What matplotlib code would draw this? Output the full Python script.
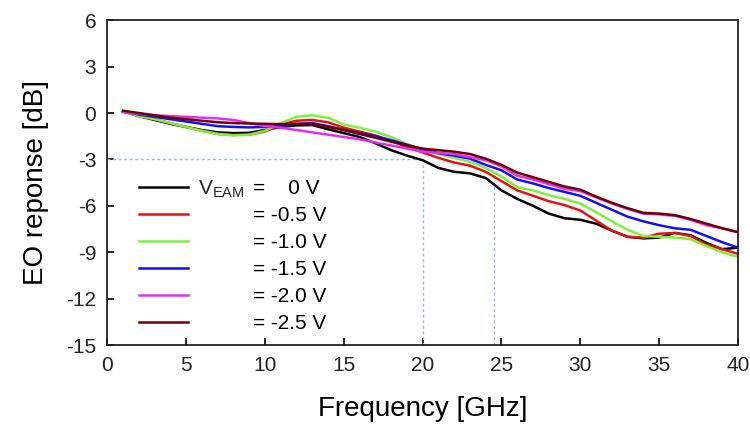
import numpy as np
import matplotlib
matplotlib.use("Agg")
import matplotlib.pyplot as plt

plt.rcParams['font.family'] = ['Liberation Sans', 'DejaVu Sans']
plt.rcParams['axes.unicode_minus'] = False

# frequency axis of the EO response sweep [GHz]
freq = np.arange(1, 41)

# EO response [dB] for each EAM bias
resp_0v0 = [0.10, -0.20, -0.45, -0.70, -0.90, -1.10, -1.25, -1.30, -1.28, -1.10,
            -0.90, -0.80, -0.78, -1.05, -1.30, -1.55, -1.95, -2.40, -2.75, -3.05,
            -3.55, -3.80, -3.90, -4.20, -5.00, -5.55, -6.00, -6.50, -6.80, -6.90,
            -7.15, -7.60, -8.00, -8.10, -8.05, -7.75, -7.90, -8.40, -8.80, -8.70]
resp_0v5 = [0.10, -0.15, -0.40, -0.65, -0.90, -1.15, -1.35, -1.42, -1.40, -1.20,
            -0.75, -0.50, -0.45, -0.60, -0.95, -1.20, -1.45, -1.80, -2.20, -2.55,
            -2.90, -3.20, -3.40, -3.80, -4.40, -5.00, -5.35, -5.70, -5.95, -6.30,
            -6.95, -7.60, -8.00, -8.05, -7.80, -7.75, -7.95, -8.50, -8.80, -9.10]
resp_1v0 = [0.10, -0.20, -0.40, -0.65, -0.90, -1.15, -1.35, -1.44, -1.40, -1.15,
            -0.65, -0.25, -0.15, -0.30, -0.75, -0.95, -1.20, -1.55, -2.00, -2.35,
            -2.65, -2.90, -3.15, -3.55, -4.10, -4.80, -5.00, -5.30, -5.55, -5.85,
            -6.40, -7.00, -7.55, -7.95, -8.00, -8.05, -8.15, -8.60, -9.00, -9.30]
resp_1v5 = [0.10, -0.10, -0.25, -0.40, -0.55, -0.70, -0.85, -0.90, -0.93, -0.90,
            -0.85, -0.70, -0.65, -0.85, -1.10, -1.30, -1.50, -1.75, -2.05, -2.35,
            -2.60, -2.75, -2.95, -3.35, -3.70, -4.30, -4.55, -4.85, -5.10, -5.35,
            -5.80, -6.25, -6.70, -7.00, -7.25, -7.45, -7.55, -7.95, -8.35, -8.70]
resp_2v0 = [0.05, -0.05, -0.15, -0.20, -0.25, -0.30, -0.35, -0.45, -0.65, -0.85,
            -0.95, -1.10, -1.25, -1.40, -1.55, -1.70, -1.90, -2.10, -2.30, -2.50,
            -2.58, -2.65, -2.85, -3.05, -3.45, -4.05, -4.30, -4.60, -4.90, -5.05,
            -5.45, -5.85, -6.20, -6.50, -6.55, -6.65, -6.90, -7.25, -7.45, -7.70]
resp_2v5 = [0.15, 0.00, -0.15, -0.30, -0.40, -0.50, -0.60, -0.65, -0.68, -0.70,
            -0.72, -0.70, -0.75, -0.90, -1.10, -1.35, -1.60, -1.85, -2.10, -2.30,
            -2.40, -2.50, -2.65, -2.95, -3.35, -3.85, -4.15, -4.45, -4.75, -4.95,
            -5.40, -5.80, -6.15, -6.45, -6.50, -6.60, -6.85, -7.15, -7.45, -7.70]

bias_labels = ["=    0 V", "= -0.5 V", "= -1.0 V", "= -1.5 V", "= -2.0 V", "= -2.5 V"]
colors = ["#000000", "#e81010", "#7cf03c", "#1010f0", "#e030f0", "#700000"]

# -3 dB bandwidth markers
f3db_ref = 20.0
f3db_alt = 24.5
level_3db = -3.0

fig = plt.figure(figsize=(7.5, 4.38), dpi=100)
ax = fig.add_axes([0.143, 0.212, 0.841, 0.742])

guide = dict(color="#90b8e0", lw=1.0, ls=(0, (2, 2)))
ax.plot([0, f3db_ref], [level_3db, level_3db], **guide)
ax.plot([f3db_ref, f3db_ref], [-15, level_3db], **guide)
ax.plot([f3db_alt, f3db_alt], [-15, -4.0], **guide)

series = [resp_0v0, resp_0v5, resp_1v0, resp_1v5, resp_2v0, resp_2v5]
handles = []
for vals, c in zip(series, colors):
    h, = ax.plot(freq, vals, color=c, lw=1.8)
    handles.append(h)

ax.set_xlim(0, 40)
ax.set_ylim(-15, 6)
ax.set_xticks(np.arange(0, 41, 5))
ax.set_yticks(np.arange(-15, 7, 3))
ax.tick_params(direction="in", length=5, width=1.2, labelsize=15,
               labelcolor="#222222", pad=8, top=False, right=False)
for s in ax.spines.values():
    s.set_linewidth(1.3)
    s.set_color("#222222")

ax.set_xlabel("Frequency [GHz]", fontsize=20, labelpad=15)
ax.set_ylabel("EO reponse [dB]", fontsize=20, labelpad=12)

leg = ax.legend(handles, bias_labels, loc="upper left",
                bbox_to_anchor=(0.051, 0.51), frameon=False, fontsize=15,
                handlelength=2.35, handletextpad=3.1, labelspacing=0.38,
                borderpad=0, borderaxespad=0)
leg.set_zorder(5)
ax.annotate("V$_{\\mathregular{EAM}}$", xy=(0, 0.5), xycoords=leg.get_texts()[0],
            xytext=(-6, 0), textcoords="offset points", ha="right", va="center",
            fontsize=15, color="#222222", zorder=6)

fig.savefig("out.png", dpi=100)
